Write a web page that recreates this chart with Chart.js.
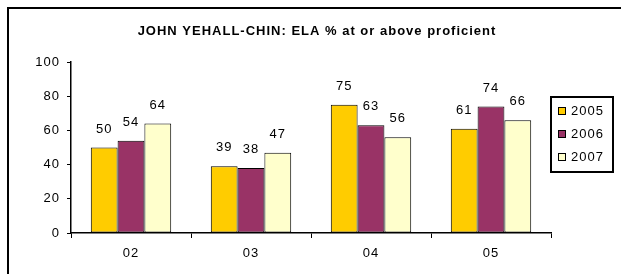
<!DOCTYPE html>
<html>
<head>
<meta charset="utf-8">
<script src="https://cdn.jsdelivr.net/npm/chart.js@4"></script>
<style>
  html, body { margin: 0; padding: 0; background: #fff; }
  #wrap { width: 621px; height: 274px; position: relative; }
</style>
</head>
<body>
<div id="wrap"><canvas id="elaChart"></canvas></div>
<script>
const grades = ['02', '03', '04', '05'];
const years = ['2005', '2006', '2007'];
const values2005 = [50, 39, 75, 61];
const values2006 = [54, 38, 63, 74];
const values2007 = [64, 47, 56, 66];
const yTicks = [0, 20, 40, 60, 80, 100];
const chartTitle = 'JOHN YEHALL-CHIN: ELA % at or above proficient';

const barColors = ['#FFCC00', '#993366', '#FFFFCC'];
const FONT = '"Liberation Sans", Arial, sans-serif';

// frame, title, value labels and boxed legend
const extras = {
    id: 'extras',
    beforeDraw(chart) {
        const ctx = chart.ctx;
        ctx.letterSpacing = '1px';
        ctx.save();
        ctx.strokeStyle = '#000';
        ctx.lineWidth = 2;
        ctx.strokeRect(8, 8, 700, 400);
        ctx.restore();
    },
    afterDatasetsDraw(chart) {
        const ctx = chart.ctx;
        ctx.save();
        ctx.font = '13px ' + FONT;
        ctx.fillStyle = '#000';
        ctx.textAlign = 'center';
        ctx.textBaseline = 'bottom';
        chart.data.datasets.forEach((ds, i) => {
            chart.getDatasetMeta(i).data.forEach((bar, j) => {
                ctx.fillText(String(ds.data[j]), bar.x, bar.y - 12);
            });
        });
        ctx.restore();
    },
    afterDraw(chart) {
        const ctx = chart.ctx;
        ctx.save();
        ctx.fillStyle = '#000';
        ctx.font = 'bold 13px ' + FONT;
        ctx.textAlign = 'center';
        ctx.textBaseline = 'middle';
        ctx.fillText(chartTitle, 317, 31);

        ctx.strokeStyle = '#000';
        ctx.lineWidth = 2;
        ctx.strokeRect(551, 97, 62, 75);
        ctx.font = '13px ' + FONT;
        ctx.textAlign = 'left';
        chart.data.datasets.forEach((ds, i) => {
            const y = 111 + i * 23;
            ctx.fillStyle = ds.backgroundColor;
            ctx.fillRect(558, y - 4, 7, 7);
            ctx.lineWidth = 1;
            ctx.strokeRect(558.5, y - 3.5, 7, 7);
            ctx.fillStyle = '#000';
            ctx.fillText(ds.label, 571, y);
        });
        ctx.restore();
    }
};

new Chart(document.getElementById('elaChart'), {
    type: 'bar',
    data: {
        labels: grades,
        datasets: [
            { label: years[0], data: values2005, backgroundColor: barColors[0] },
            { label: years[1], data: values2006, backgroundColor: barColors[1] },
            { label: years[2], data: values2007, backgroundColor: barColors[2] }
        ].map(ds => Object.assign(ds, {
            borderColor: '#000',
            borderWidth: 1,
            borderSkipped: false,
            categoryPercentage: 0.67,
            barPercentage: 1
        }))
    },
    options: {
        responsive: true,
        maintainAspectRatio: false,
        animation: false,
        layout: { padding: { left: 0, right: 70, top: 62, bottom: 0 } },
        plugins: {
            legend: { display: false },
            tooltip: { enabled: false },
            title: { display: false }
        },
        scales: {
            x: {
                grid: { display: true, drawOnChartArea: false, drawTicks: true, tickLength: 5, color: '#000', offset: true },
                border: { display: true, color: '#000', width: 1.5 },
                ticks: { color: '#000', font: { family: FONT, size: 13 }, padding: 8 },
                afterFit(scale) { scale.height = 41; }
            },
            y: {
                min: 0,
                max: 100,
                afterBuildTicks(scale) { scale.ticks = yTicks.map(v => ({ value: v })); },
                grid: { display: true, drawOnChartArea: false, drawTicks: true, tickLength: 4, color: '#000' },
                border: { display: true, color: '#000', width: 1.5 },
                ticks: { color: '#000', font: { family: FONT, size: 13 }, padding: 7 },
                afterFit(scale) { scale.width = 71; }
            }
        }
    },
    plugins: [extras]
});
</script>
</body>
</html>
